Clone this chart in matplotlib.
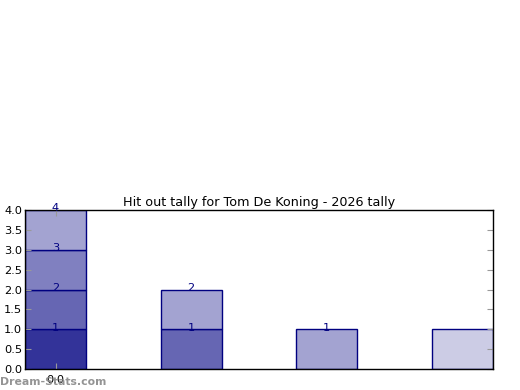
import matplotlib
matplotlib.use("Agg")
import matplotlib.pyplot as plt

# data
positions = [0, 1, 2, 3]
segment_heights = [[1, 1, 1, 1], [1, 1], [1], [1]]
segment_colors = [["#333399", "#6666b3", "#8080c0", "#a3a3d1"],
                  ["#6666b3", "#a3a3d1"],
                  ["#a3a3d1"],
                  ["#ccccE5"]]
segment_labels = [["1", "2", "3", "4"], ["1", "2"], ["1"], [""]]
title = "Hit out tally for Tom De Koning - 2026 tally"
yticks = [0.0, 0.5, 1.0, 1.5, 2.0, 2.5, 3.0, 3.5, 4.0]
xtick_labels = ["0.0"]

width = 0.45
fig = plt.figure(figsize=(5.2, 3.9), dpi=100)
ax = fig.add_axes([25/520, 21/390, 468/520, 159/390])

for x, hs, cs, ls in zip(positions, segment_heights, segment_colors, segment_labels):
    bottom = 0
    for h, c, l in zip(hs, cs, ls):
        ax.bar(x, h, width=width, bottom=bottom, color=c, edgecolor="#000080",
               linewidth=1.0, align="edge")
        bottom += h
        if l:
            ax.text(x + width/2, bottom + 0.04, l, ha="center", va="center",
                    fontsize=8.2, color="#000080")

ax.set_xlim(0, 3.45)
ax.set_ylim(0, 4.0)
ax.set_yticks(yticks)
ax.set_yticklabels([f"{v:.1f}" for v in yticks], fontsize=8.2)
ax.set_xticks([width/2])
ax.set_xticklabels(xtick_labels, fontsize=8.2)
ax.tick_params(axis="both", direction="in", color="#999999", length=4, pad=2)
ax.tick_params(axis="x", pad=4)
ax.tick_params(axis="y", right=True)
ax.tick_params(axis="x", top=True)
for s in ax.spines.values():
    s.set_color("black")
    s.set_linewidth(1.0)
ax.set_title(title, fontsize=9.2, pad=3)

fig.text(0, 3/390, "Dream-Stats.com", fontsize=7.8, fontweight="bold",
         color="#888888", ha="left", va="bottom", alpha=0.9)

fig.savefig("out.png", dpi=100)
